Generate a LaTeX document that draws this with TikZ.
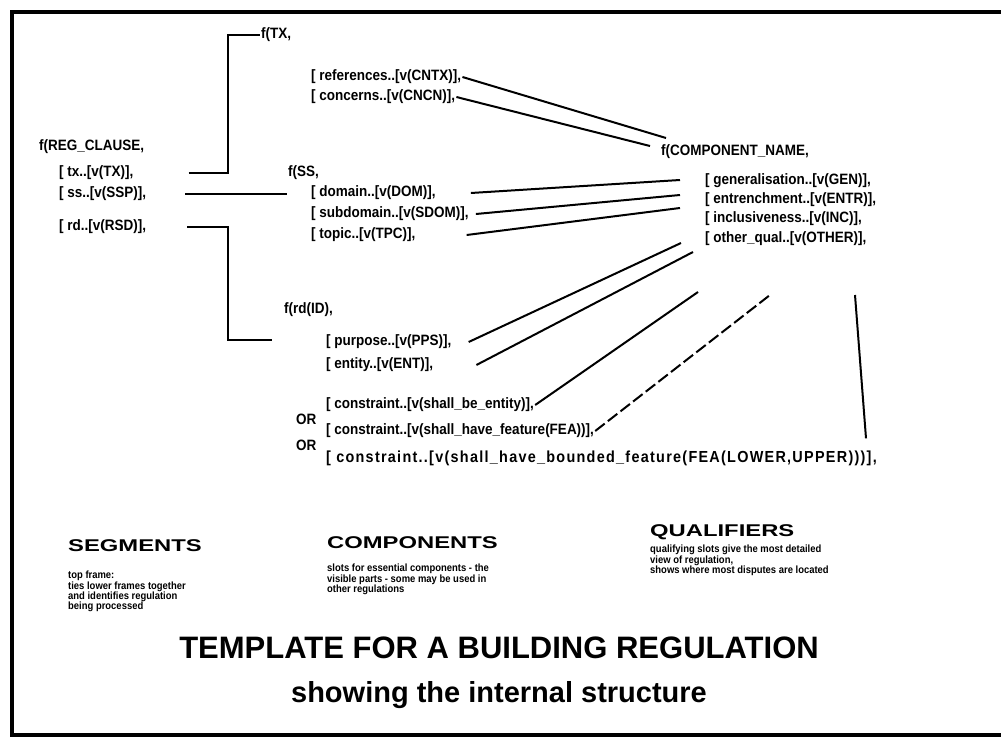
\documentclass[tikz,border=0pt]{standalone}
\usepackage{fontspec}
\setmainfont{Liberation Sans}
\newfontfamily\rowfont[FakeStretch=0.9]{Liberation Sans}
\newfontfamily\widerowfont[FakeStretch=0.9, LetterSpace=8]{Liberation Sans}
\newfontfamily\headfont[FakeStretch=1.4]{Liberation Sans}

\begin{document}
\begin{tikzpicture}[x=1pt, y=-1pt,
  row/.style={anchor=west, inner sep=1pt, font=\rowfont\fontsize{15}{16}\selectfont\bfseries},
  head/.style={anchor=west, inner sep=0pt, font=\headfont\fontsize{17}{19}\selectfont\bfseries},
  note/.style={anchor=north west, inner sep=0pt, align=left, font=\rowfont\fontsize{10.5}{10.3}\selectfont\bfseries},
  link/.style={line width=2pt},
  frame/.style={line width=4.5pt}]
\useasboundingbox (0,0) rectangle (1001,738);
\clip (0,0) rectangle (1001,738);
\draw [frame] (1010,12) -- (12,12) -- (12,735) -- (1010,735);

% top frame
\node [row] (regclause) at (38,147) {f(REG\_CLAUSE,};
\node [row] (tx) at (58,173) {[ tx..[v(TX)],};
\node [row] (ss) at (58,194) {[ ss..[v(SSP)],};
\node [row] (rd) at (58,227) {[ rd..[v(RSD)],};

% segments
\node [row] (txhead) at (260,35) {f(TX,};
\node [row] (refs) at (310,77) {[ references..[v(CNTX)],};
\node [row] (concerns) at (310,97) {[ concerns..[v(CNCN)],};

\node [row] (sshead) at (287,173) {f(SS,};
\node [row] (domain) at (310,193) {[ domain..[v(DOM)],};
\node [row] (subdomain) at (310,214) {[ subdomain..[v(SDOM)],};
\node [row] (topic) at (310,235) {[ topic..[v(TPC)],};

\node [row] (rdhead) at (283,310) {f(rd(ID),};
\node [row] (purpose) at (325,342) {[ purpose..[v(PPS)],};
\node [row] (entity) at (325,365) {[ entity..[v(ENT)],};
\node [row] (cona) at (325,405) {[ constraint..[v(shall\_be\_entity)],};
\node [row] (ora) at (295,419) {OR};
\node [row] (conb) at (325,431) {[ constraint..[v(shall\_have\_feature(FEA))],};
\node [row] (orb) at (295,445) {OR};
\node [row, font=\widerowfont\fontsize{16}{17}\selectfont\bfseries] (conc) at (325,458) {[ constraint..[v(shall\_have\_bounded\_feature(FEA(LOWER,UPPER)))],};

% qualifiers
\node [row] (comphead) at (660,152) {f(COMPONENT\_NAME,};
\node [row] (gen) at (704,181) {[ generalisation..[v(GEN)],};
\node [row] (entr) at (704,200) {[ entrenchment..[v(ENTR)],};
\node [row] (incl) at (704,219) {[ inclusiveness..[v(INC)],};
\node [row] (other) at (704,239) {[ other\_qual..[v(OTHER)],};

% frame links
\coordinate (txknee) at (228,173);
\coordinate (rdknee) at (228,227);
\coordinate (rdfoot) at (272,340);
\draw [link] (tx.east) ++(54,0) -- (txknee) |- (txhead.west);
\draw [link] (ss.east) ++(38,0) -- (ss.east -| sshead.west);
\draw [link] (rd.east) ++(40,0) -- (rdknee) |- (rdfoot);

% component links
\coordinate (qa) at (666,138);
\coordinate (qb) at (650,146);
\coordinate (qc) at (680,180);
\coordinate (qd) at (680,195);
\coordinate (qe) at (680,208);
\coordinate (qf) at (681,243);
\coordinate (qg) at (693,252);
\coordinate (qh) at (698,292);
\coordinate (qi) at (770,295);
\coordinate (qj) at (855,295);
\draw [link] (refs.east) -- (qa);
\draw [link] (concerns.east) -- (qb);
\draw [link] ([xshift=34pt]domain.east) -- (qc);
\draw [link] ([xshift=6pt]subdomain.east) -- (qd);
\draw [link] ([xshift=50pt]topic.east) -- (qe);
\draw [link] ([xshift=16pt]purpose.east) -- (qf);
\draw [link] ([xshift=42pt]entity.east) -- (qg);
\draw [link] (cona.east) -- (qh);
\draw [link, dash pattern=on 12pt off 4pt] (conb.east) -- (qi);
\draw [link] ([xshift=-12pt,yshift=11pt]conc.north east) -- (qj);

% legend
\node [head] (segments) at (68,546) {SEGMENTS};
\node [head] (components) at (327,543) {COMPONENTS};
\node [head] (qualifiers) at (650,532) {QUALIFIERS};
\node [note] (segnote) at (68,571) {top frame:\\ties lower frames together\\and identifies regulation\\being processed};
\node [note] (compnote) at (327,564) {slots for essential components - the\\visible parts - some may be used in\\other regulations};
\node [note] (qualnote) at (650,545) {qualifying slots give the most detailed\\view of regulation,\\shows where most disputes are located};

\node [font=\fontsize{31}{34}\selectfont\bfseries] (title) at (499,648) {TEMPLATE FOR A BUILDING REGULATION};
\node [font=\fontsize{29}{32}\selectfont\bfseries] (subtitle) at (499,695) {showing the internal structure};
\end{tikzpicture}
\end{document}
